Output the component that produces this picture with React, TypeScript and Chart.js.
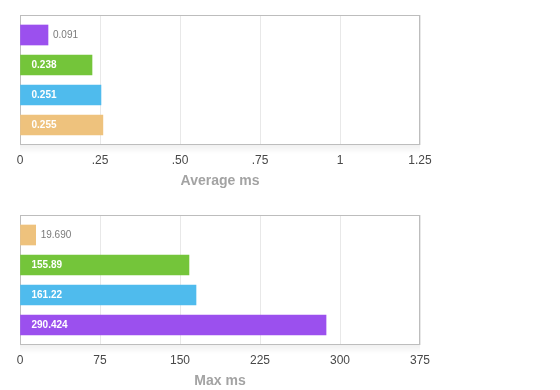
import React, { useEffect, useRef } from "react";
import { Chart, registerables } from "chart.js";

Chart.register(...registerables);

// ---- data ----
const avgCategories = ["Purple", "Green", "Blue", "Tan"];
const avgValues = [0.0875, 0.225, 0.253, 0.259];
const avgLabels = ["0.091", "0.238", "0.251", "0.255"];
const avgColors = ["#9b50ee", "#74c53a", "#4fbbed", "#eec27d"];
const avgTicks = ["0", ".25", ".50", ".75", "1", "1.25"];
const avgTitle = "Average ms";

const maxCategories = ["Tan", "Green", "Blue", "Purple"];
const maxValues = [14.7, 158.4, 165.0, 286.9];
const maxLabels = ["19.690", "155.89", "161.22", "290.424"];
const maxColors = ["#eec27d", "#74c53a", "#4fbbed", "#9b50ee"];
const maxTicks = ["0", "75", "150", "225", "300", "375"];
const maxTitle = "Max ms";

const FONT = "'Liberation Sans', Arial, Helvetica, sans-serif";

const framePlugin = {
  id: "frame",
  beforeDatasetsDraw(chart: any) {
    const { ctx, chartArea: a } = chart;
    ctx.save();
    const g = ctx.createLinearGradient(0, a.bottom, 0, a.bottom + 9);
    g.addColorStop(0, "rgba(0,0,0,0.06)");
    g.addColorStop(1, "rgba(0,0,0,0)");
    ctx.fillStyle = g;
    ctx.fillRect(a.left, a.bottom, a.right - a.left, 9);
    ctx.strokeStyle = "#bdbdbd";
    ctx.lineWidth = 1;
    ctx.strokeRect(a.left + 0.5, a.top + 0.5, a.right - a.left - 1, a.bottom - a.top - 1);
    ctx.restore();
  },
};

const labelPlugin = {
  id: "barLabels",
  afterDatasetsDraw(chart: any) {
    const { ctx } = chart;
    const texts: string[] = chart.options.plugins.barLabels.texts;
    const meta = chart.getDatasetMeta(0);
    ctx.save();
    ctx.textBaseline = "middle";
    ctx.textAlign = "left";
    meta.data.forEach((bar: any, i: number) => {
      const t = texts[i];
      ctx.font = `bold 10px ${FONT}`;
      const w = ctx.measureText(t).width;
      const len = bar.x - bar.base;
      if (len > w + 20) {
        ctx.fillStyle = "#ffffff";
        ctx.fillText(t, bar.base + 11, bar.y + 0.5);
      } else {
        ctx.font = `10px ${FONT}`;
        ctx.fillStyle = "#7a7a7a";
        ctx.fillText(t, bar.x + 5, bar.y + 0.5);
      }
    });
    ctx.restore();
  },
};

function makeConfig(
  categories: string[],
  values: number[],
  labels: string[],
  colors: string[],
  ticks: string[],
  title: string,
  step: number,
  bottomPad: number
): any {
  return {
    type: "bar",
    data: {
      datasets: [
        {
          label: title,
          data: values.map((v, i) => ({ x: v, y: i, c: categories[i] })),
          backgroundColor: colors,
          borderWidth: 0,
          barThickness: 20,
        },
      ],
    },
    options: {
      indexAxis: "y",
      responsive: false,
      animation: false,
      layout: { padding: { left: 20, right: 20, top: 15, bottom: bottomPad } },
      plugins: {
        legend: { display: false },
        tooltip: { enabled: false },
        barLabels: { texts: labels },
      },
      scales: {
        y: {
          type: "linear",
          display: false,
          reverse: true,
          offset: false,
          grid: { offset: false },
          min: -2 / 3,
          max: 11 / 3,
        },
        x: {
          type: "linear",
          min: 0,
          max: step * (ticks.length - 1),
          afterFit(scale: any) {
            scale.height = 45;
          },
          ticks: {
            stepSize: step,
            padding: 8,
            color: "#484848",
            font: { family: FONT, size: 12 },
            callback: (_v: any, idx: number) => ticks[idx],
          },
          grid: { color: "#e8e8e8", drawTicks: false },
          border: { display: false },
          title: {
            display: true,
            text: title,
            color: "#a3a3a3",
            font: { family: FONT, size: 14, weight: "bold" },
            padding: { top: 0, bottom: 0 },
          },
        },
      },
    },
    plugins: [framePlugin, labelPlugin],
  };
}

function BarChart(props: { config: any; top: number; height: number }) {
  const ref = useRef<HTMLCanvasElement | null>(null);
  useEffect(() => {
    if (!ref.current) return;
    const chart = new Chart(ref.current, props.config);
    return () => chart.destroy();
  }, []);
  return (
    <canvas
      ref={ref}
      width={440}
      height={props.height}
      style={{ position: "absolute", left: 0, top: props.top, width: 440, height: props.height }}
    />
  );
}

export default function App() {
  const avgConfig = makeConfig(avgCategories, avgValues, avgLabels, avgColors, avgTicks, avgTitle, 0.25, 10);
  const maxConfig = makeConfig(maxCategories, maxValues, maxLabels, maxColors, maxTicks, maxTitle, 75, 0);
  return (
    <div style={{ position: "absolute", left: 0, top: 0, width: 560, height: 390, background: "#fff", overflow: "hidden" }}>
      <BarChart config={avgConfig} top={0} height={200} />
      <BarChart config={maxConfig} top={200} height={190} />
    </div>
  );
}
